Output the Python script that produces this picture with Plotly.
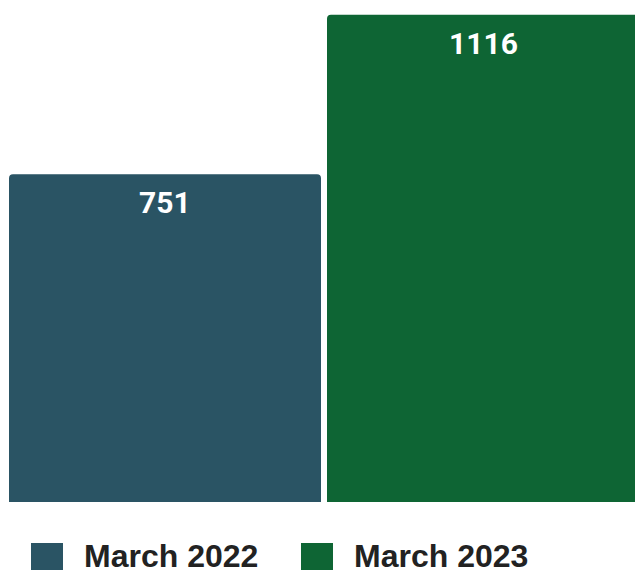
import plotly.graph_objects as go

categories = ["March 2022", "March 2023"]
values = [751, 1116]
colors = ["#2a5464", "#0e6534"]

W, H = 635, 570
L = 6
PLOT_BOTTOM = 502
slot = 318

fig = go.Figure()
for cat, val, col in zip(categories, values, colors):
    fig.add_trace(go.Bar(
        x=[cat], y=[val], name=cat,
        marker=dict(color=col, line=dict(width=0)),
        showlegend=False, hoverinfo="skip",
    ))
    fig.add_annotation(
        x=cat, y=val, xref="x", yref="y", text=f"<b>{val}</b>",
        showarrow=False, yanchor="top", yshift=-9,
        font=dict(family="Roboto", size=30, color="#ffffff"),
    )

plot_w = W - L
xr = [-0.5, -0.5 + plot_w / slot]

def px_to_paper_x(p):
    return (p - L) / plot_w

def px_to_paper_y(p):
    return (PLOT_BOTTOM - p) / PLOT_BOTTOM

# custom legend
legend_items = [(31, 82), (301, 352)]
for (sq_x, tx_x), cat, col in zip(legend_items, categories, colors):
    x0, x1 = px_to_paper_x(sq_x), px_to_paper_x(sq_x + 32)
    y0, y1 = px_to_paper_y(543 + 32), px_to_paper_y(543)
    fig.add_shape(type="rect", xref="paper", yref="paper",
                  x0=x0, x1=x1, y0=y0, y1=y1,
                  fillcolor=col, line=dict(width=0), layer="above")
    fig.add_annotation(
        x=px_to_paper_x(tx_x), y=px_to_paper_y(556), xref="paper", yref="paper",
        text=f"<b>{cat}</b>", showarrow=False, xanchor="left", yanchor="middle",
        font=dict(family="Liberation Sans, Arial", size=32, color="#222222"),
    )

fig.update_layout(
    width=W, height=H,
    margin=dict(l=L, r=0, t=0, b=H - PLOT_BOTTOM, pad=0),
    barmode="overlay",
    bargap=6 / slot,
    barcornerradius=4,
    plot_bgcolor="#ffffff", paper_bgcolor="#ffffff",
    xaxis=dict(range=xr, visible=False, fixedrange=True),
    yaxis=dict(range=[0, 1150], visible=False, fixedrange=True),
    showlegend=False,
)

fig.write_html("out.html", config={"displayModeBar": False})
